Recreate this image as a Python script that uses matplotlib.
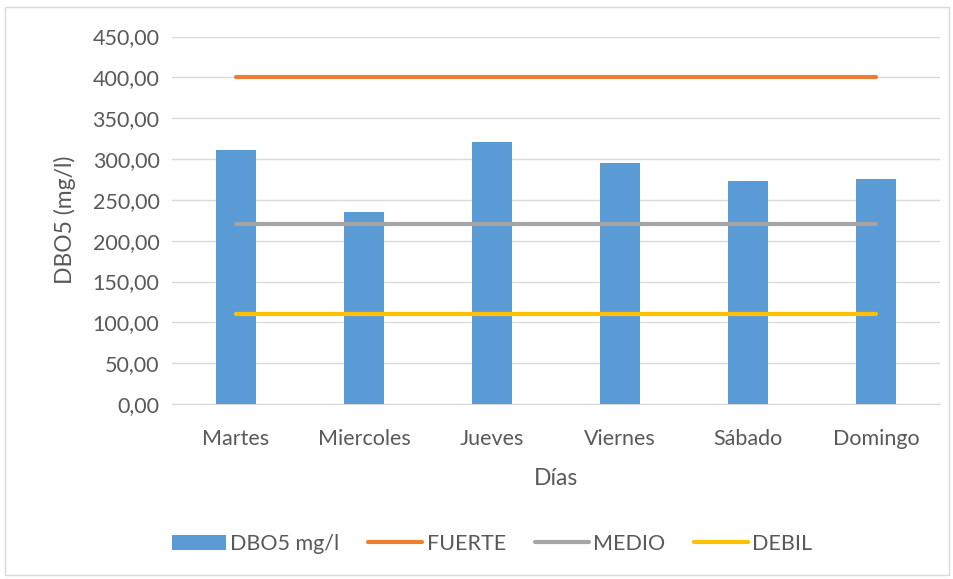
import numpy as np
import matplotlib.pyplot as plt
from matplotlib.patches import Rectangle

dias = ["Martes", "Miercoles", "Jueves", "Viernes", "Sábado", "Domingo"]
dbo5 = [311, 235.5, 320.4, 295, 272.5, 276]
fuerte = [400] * 6
medio = [220] * 6
debil = [110] * 6
yticks = np.arange(0, 451, 50)

plt.rcParams['font.family'] = ['Lato', 'DejaVu Sans']
txt = '#595959'

fig = plt.figure(figsize=(9.54, 5.79), dpi=100)
ax = fig.add_axes([172 / 954, 1 - 404 / 579, 768 / 954, (404 - 36.5) / 579])

x = np.arange(len(dias))
bars = ax.bar(x, dbo5, width=0.32, color='#5B9BD5', label='DBO5 mg/l', zorder=2)
l1, = ax.plot(x, fuerte, color='#ED7D31', lw=3, solid_capstyle='round', label='FUERTE', zorder=3)
l2, = ax.plot(x, medio, color='#A5A5A5', lw=3, solid_capstyle='round', label='MEDIO', zorder=3)
l3, = ax.plot(x, debil, color='#FFC000', lw=3, solid_capstyle='round', label='DEBIL', zorder=3)

ax.set_xlim(-0.5, len(dias) - 0.5)
ax.set_ylim(0, 450)
ax.set_yticks(yticks)
ax.set_yticklabels([f"{v:.2f}".replace('.', ',') for v in yticks])
ax.set_xticks(x)
ax.set_xticklabels(dias)
ax.tick_params(length=0, labelsize=15.5, colors=txt)
ax.tick_params(axis='x', pad=18)
ax.tick_params(axis='y', pad=9)
ax.grid(axis='y', color='#D9D9D9', lw=1, zorder=0)
for s in ['top', 'right', 'left']:
    ax.spines[s].set_visible(False)
ax.spines['bottom'].set_color('#D9D9D9')
ax.spines['bottom'].set_zorder(1)

ax.set_xlabel('Días', fontsize=16.5, color=txt, labelpad=14)
ax.set_ylabel('DBO5 (mg/l)', fontsize=16.5, color=txt, labelpad=12)

leg = fig.legend([bars, l1, l2, l3], ['DBO5 mg/l', 'FUERTE', 'MEDIO', 'DEBIL'],
                 loc='center', bbox_to_anchor=(0.516, 1 - 544 / 579), ncol=4,
                 frameon=False, fontsize=15.5, handlelength=2.5, handleheight=0.7,
                 handletextpad=0.2, columnspacing=1.35)
for t in leg.get_texts():
    t.set_color(txt)

fig.patches.append(Rectangle((5 / 954, 4 / 579), 944 / 954, 568 / 579,
                             transform=fig.transFigure, fill=False,
                             edgecolor='#D9D9D9', lw=1))

fig.savefig('out.png', dpi=100)
